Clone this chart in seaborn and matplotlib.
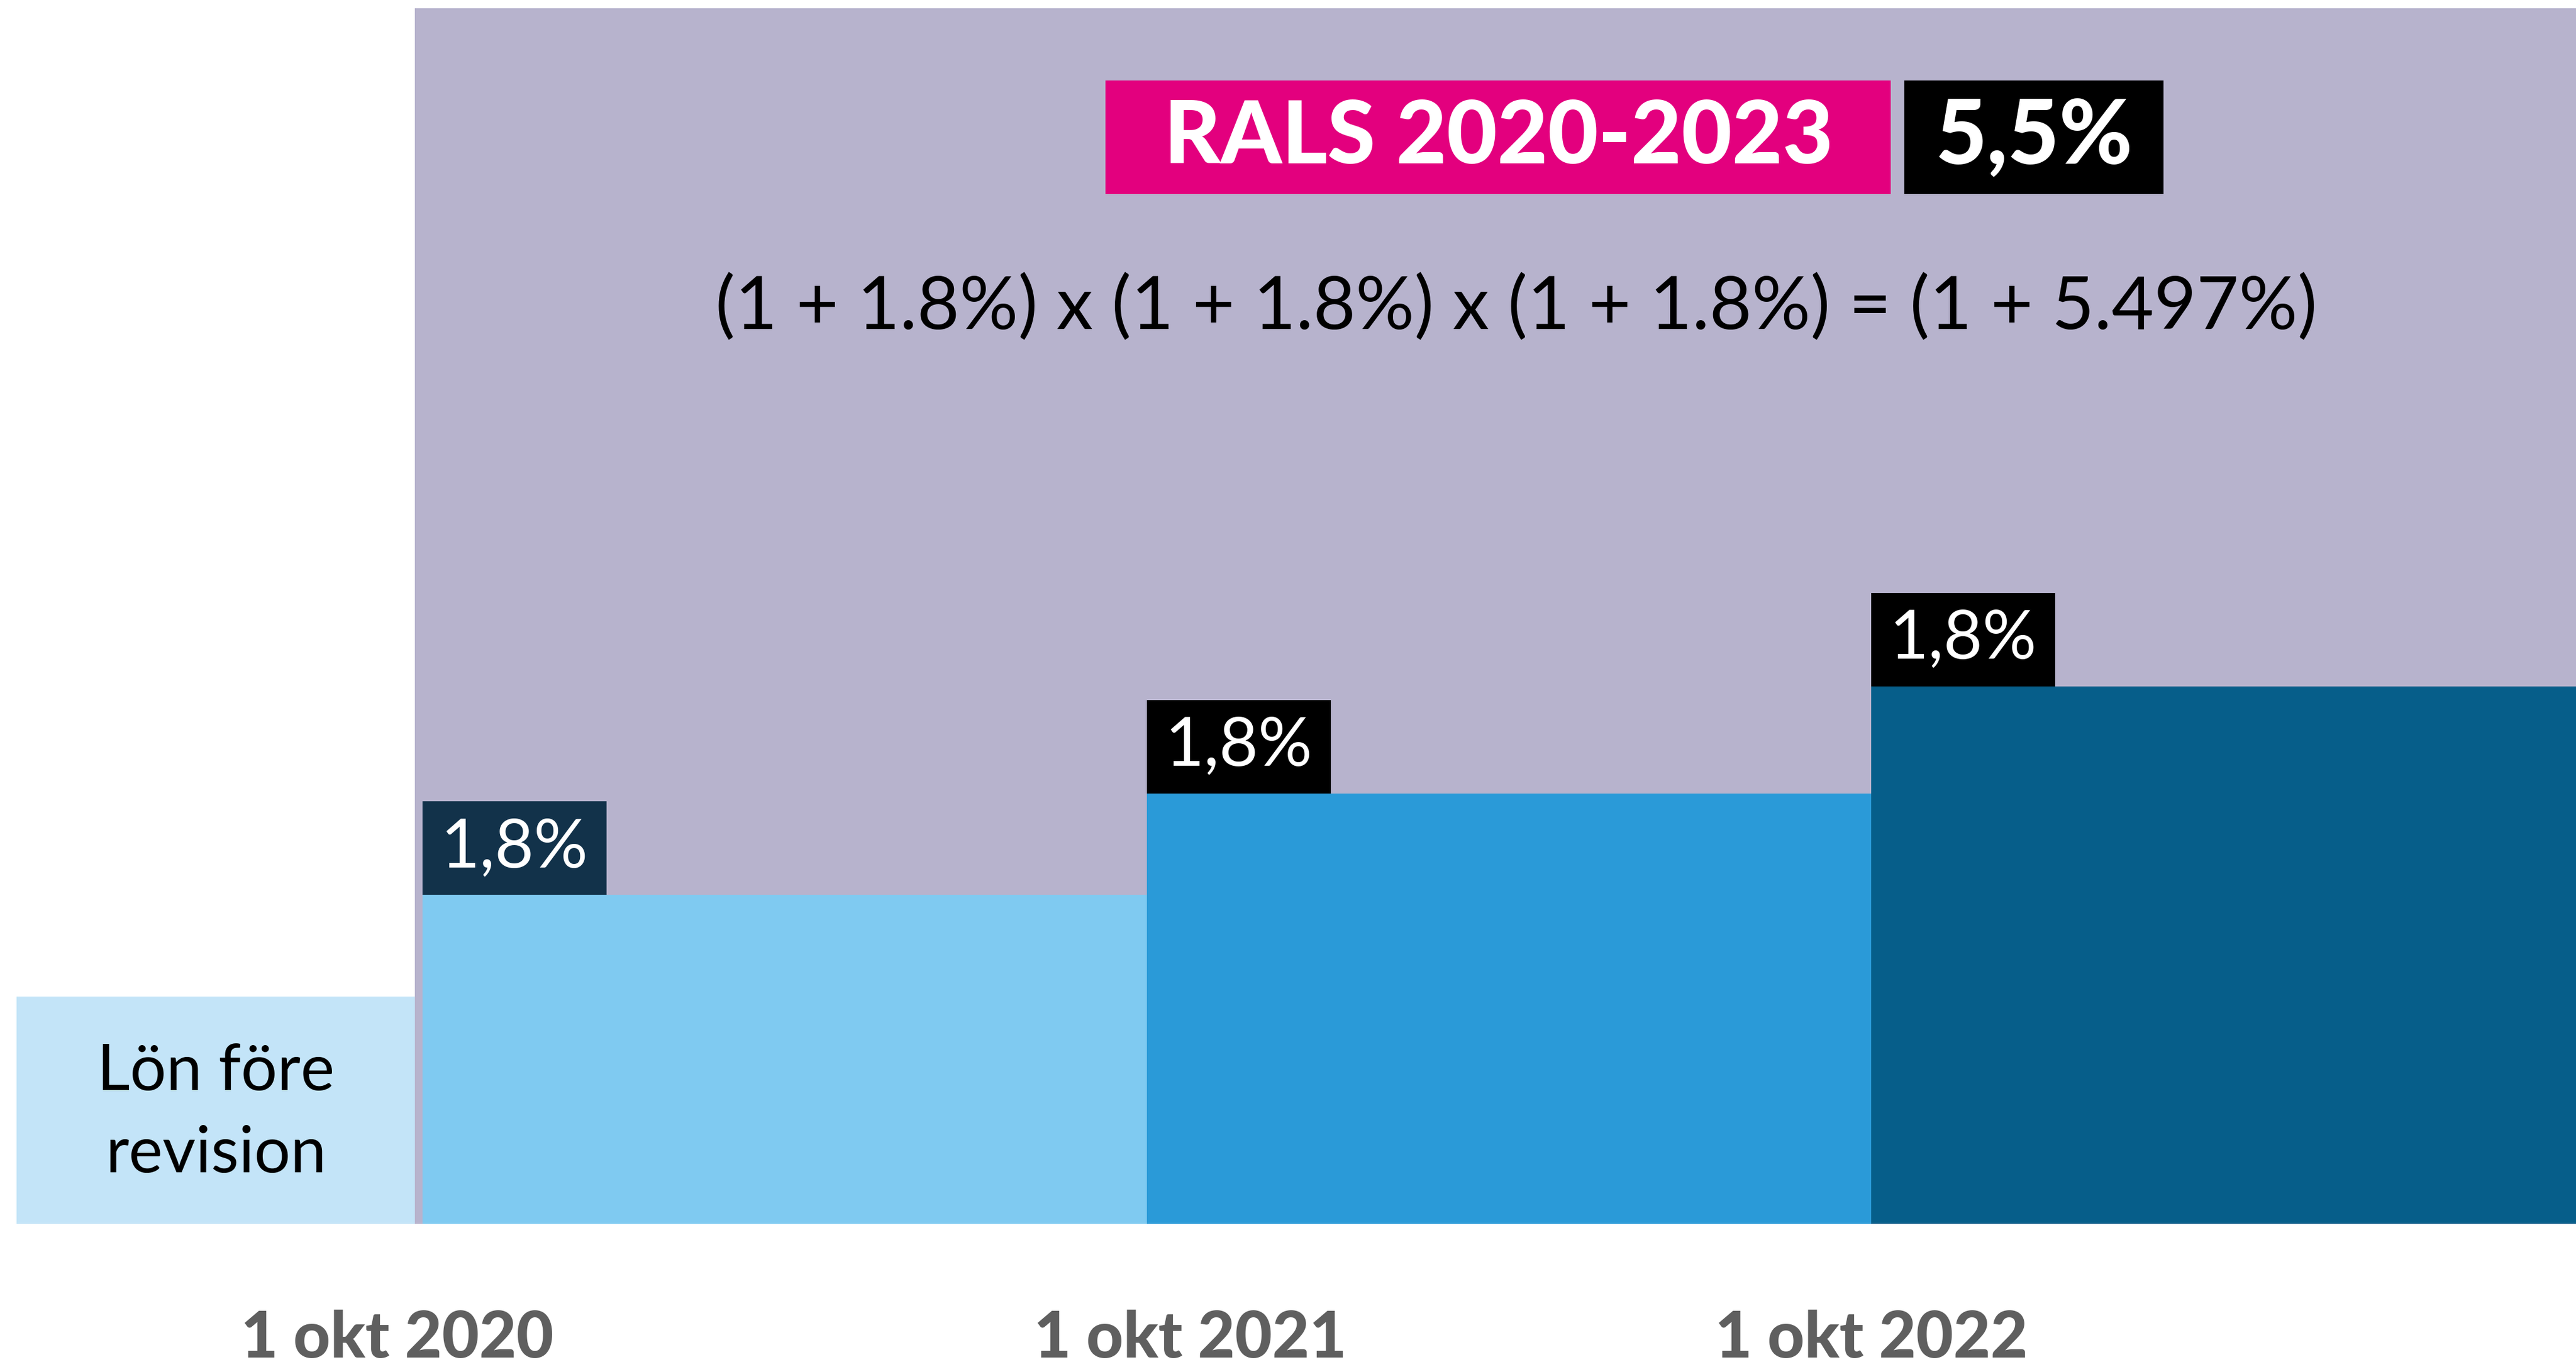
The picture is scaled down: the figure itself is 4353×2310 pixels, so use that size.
import matplotlib
matplotlib.use("Agg")
import matplotlib.pyplot as plt
from matplotlib.patches import Rectangle
import pandas as pd
import seaborn as sns

# data
tick_labels = ["1 okt 2020", "1 okt 2021", "1 okt 2022"]
revision_years = [2020.75, 2021.75, 2022.75]
raise_labels = ["1,8%", "1,8%", "1,8%"]
salary_levels = [101.8, 103.6, 105.5]   # index, lön före revision = 100
base_level = 100.0
base_label = "Lön före\nrevision"
header_title = "RALS 2020-2023"
header_total = "5,5%"
formula = "(1 + 1.8%) x (1 + 1.8%) x (1 + 1.8%) = (1 + 5.497%)"

# colours
bar_colors = ["#7FCAF1", "#2A9AD8", "#065E8A"]
label_box_colors = ["#12324A", "#000000", "#000000"]
purple = "#B7B3CD"
base_color = "#C3E4F8"
magenta = "#E3007E"
tick_gray = "#5F5F5F"

# layout (illustration, not to scale)
baseline = 95.96
y_top = 117.68
x_left, x_right = 2020.167, 2023.723
base_x0, base_x1 = 2020.19, 2020.74
box_w, box_h = 0.254, 1.66
tick_shift = [-0.035, 0.06, 0.0]   # nudge date labels as in the original

sns.set_theme(style="white")
plt.rcParams["font.family"] = ["Lato", "DejaVu Sans"]

fig = plt.figure(figsize=(43.53, 23.10), dpi=100)
ax = fig.add_axes([0, 87 / 832, 1, 745 / 832])

# revision steps
df = pd.DataFrame({
    "center": [y + 0.5 for y in revision_years],
    "rise": [v - baseline for v in salary_levels],
    "period": tick_labels,
})
sns.barplot(data=df, x="center", y="rise", hue="period", palette=bar_colors,
            native_scale=True, width=1, dodge=False, legend=False, linewidth=0,
            saturation=1, ax=ax, zorder=1)
# lift bars to the baseline
for p in list(ax.patches):
    p.set_y(p.get_y() + baseline)

# purple background behind the revision period
ax.axvspan(base_x1, x_right + 1, ymin=0, ymax=(740 / 745), color=purple, lw=0, zorder=0)

# salary before revision
ax.bar(base_x0, base_level - baseline, width=base_x1 - base_x0, bottom=baseline,
       align="edge", color=base_color, lw=0, zorder=1)
ax.text((base_x0 + base_x1) / 2, (base_level + baseline) / 2 - 0.05, base_label,
        ha="center", va="center", fontsize=78, color="black", linespacing=1.5, zorder=3)

for x0, lvl, txt, c in zip(revision_years, salary_levels, raise_labels, label_box_colors):
    ax.add_patch(Rectangle((x0, lvl), box_w, box_h, color=c, lw=0, zorder=2))
    ax.text(x0 + box_w / 2, lvl + box_h / 2, txt, ha="center", va="center",
            fontsize=82, color="white", zorder=3)

ax.set_xlim(x_left, x_right)
ax.set_ylim(baseline, y_top)
ax.set_xticks([y + s for y, s in zip(revision_years, tick_shift)])
ax.set_xticklabels(tick_labels, fontsize=78, fontweight="black", color=tick_gray)
ax.tick_params(axis="x", length=0, pad=104)
ax.set_yticks([])
ax.set_xlabel("")
ax.set_ylabel("")
for s in ax.spines.values():
    s.set_visible(False)

# header
fig.patches.append(Rectangle((673 / 1568, 1 - 118 / 832), 478 / 1568, 69 / 832,
                             transform=fig.transFigure, color=magenta, lw=0))
fig.patches.append(Rectangle((1159 / 1568, 1 - 118 / 832), 158 / 1568, 69 / 832,
                             transform=fig.transFigure, color="black", lw=0))
fig.text((673 + 478 / 2) / 1568, 1 - 84 / 832, header_title, ha="center", va="center",
         fontsize=106, fontweight="black", color="white")
fig.text((1159 + 158 / 2) / 1568, 1 - 84 / 832, header_total, ha="center", va="center",
         fontsize=108, fontweight="black", color="white")
fig.text(923 / 1568, 1 - 187 / 832, formula, ha="center", va="center",
         fontsize=89, color="black")

fig.savefig("out.png", dpi=100, facecolor="white")
